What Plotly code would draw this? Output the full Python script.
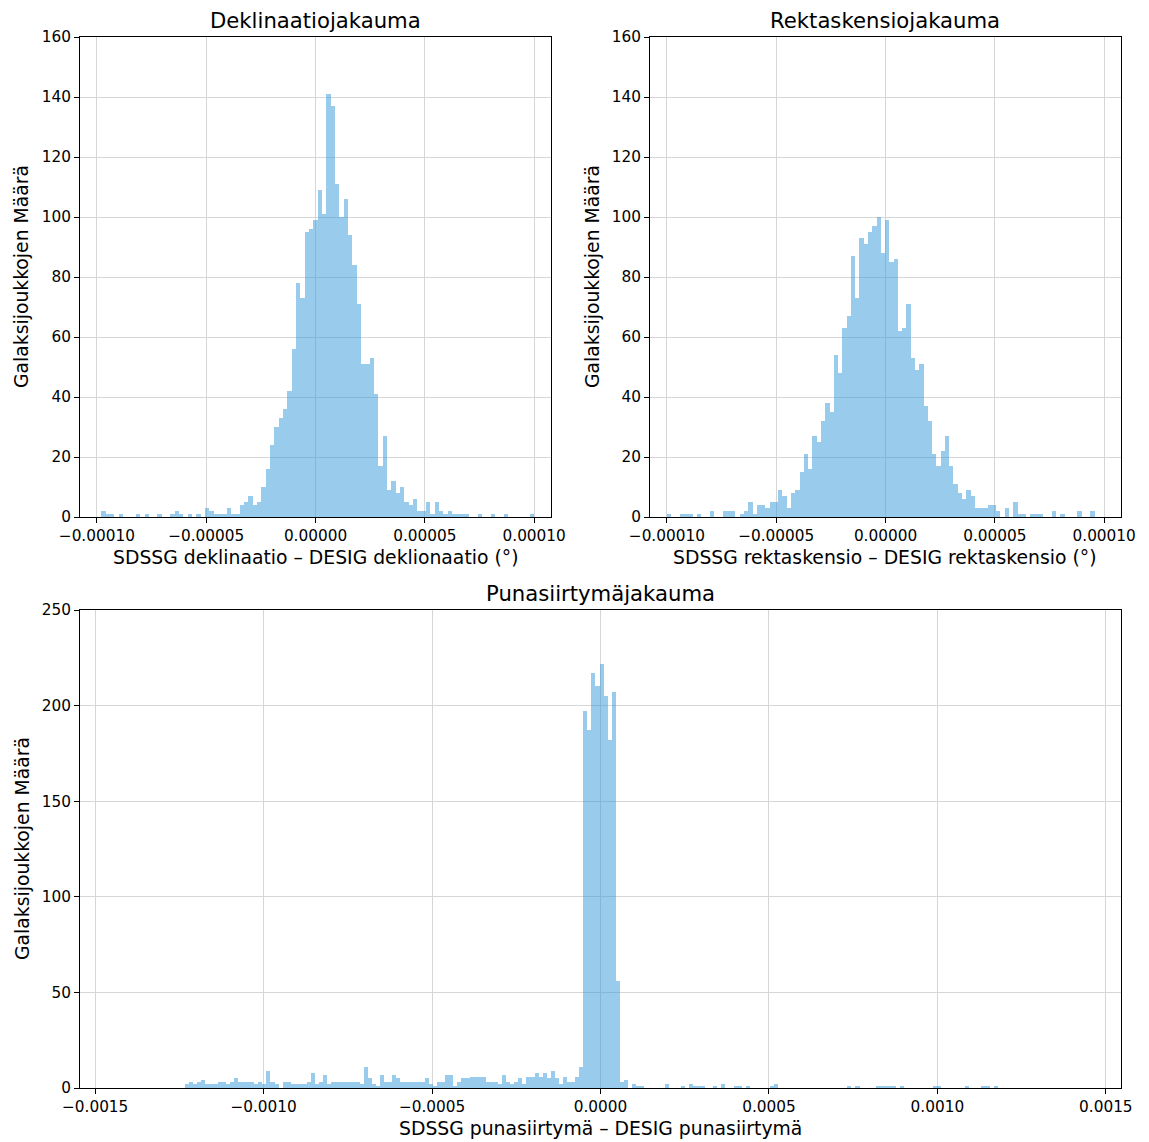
import plotly.graph_objects as go

# ---------------- data ----------------
dec_bin_start = -98.0e-6
dec_bin_width = 1.98e-6
dec_counts = [2, 1, 1, 0, 1, 0, 0, 0, 1, 0,
              1, 0, 0, 1, 0, 0, 1, 2, 1, 0,
              1, 0, 1, 0, 3, 2, 1, 1, 1, 3,
              1, 1, 4, 5, 7, 4, 5, 10, 16, 24,
              30, 33, 36, 42, 56, 78, 73, 95, 96, 99,
              109, 101, 141, 137, 111, 100, 106, 94, 84, 71,
              51, 51, 53, 41, 17, 27, 9, 12, 8, 10,
              5, 4, 6, 2, 2, 5, 1, 5, 2, 1,
              2, 1, 1, 1, 1, 0, 0, 1, 0, 0,
              1, 0, 0, 1, 0, 0, 0, 0, 0, 1]

ra_bin_start = -99.9e-6
ra_bin_width = 1.955e-6
ra_counts = [1, 0, 0, 1, 1, 1, 0, 1, 0, 0,
             2, 0, 0, 2, 2, 2, 0, 1, 2, 5,
             1, 4, 4, 3, 5, 5, 9, 7, 3, 8,
             9, 15, 21, 16, 27, 25, 32, 38, 35, 54,
             48, 63, 67, 87, 73, 93, 91, 95, 97, 100,
             88, 99, 85, 86, 62, 63, 71, 53, 49, 51,
             37, 32, 21, 17, 22, 27, 17, 11, 8, 6,
             9, 7, 3, 3, 3, 4, 4, 2, 0, 3,
             0, 5, 1, 1, 0, 1, 1, 1, 0, 0,
             2, 0, 1, 0, 0, 0, 2, 0, 0, 2]

z_bin_start = -1.2330e-3
z_bin_width = 12.06e-6
z_counts = [2, 3, 2, 3, 4, 2, 2, 2, 3, 3,
            2, 3, 5, 3, 3, 3, 3, 2, 3, 2,
            9, 3, 2, 0, 3, 3, 2, 2, 2, 2,
            3, 8, 2, 3, 7, 2, 3, 3, 3, 3,
            3, 3, 3, 2, 11, 5, 2, 1, 7, 3,
            3, 7, 5, 3, 3, 3, 3, 3, 3, 5,
            2, 1, 3, 3, 7, 7, 1, 3, 5, 5,
            6, 6, 6, 6, 3, 3, 3, 2, 7, 3,
            2, 3, 5, 2, 6, 6, 8, 6, 8, 5,
            9, 5, 2, 6, 3, 3, 6, 11, 197, 187,
            217, 210, 222, 205, 182, 207, 56, 3, 4, 0,
            2, 1, 1, 0, 0, 0, 0, 0, 2, 0,
            0, 0, 1, 0, 2, 1, 1, 1, 0, 0,
            1, 0, 2, 0, 0, 1, 1, 0, 1, 0,
            0, 0, 0, 0, 1, 2, 0, 0, 0, 0,
            0, 0, 0, 0, 0, 0, 0, 0, 0, 0,
            0, 0, 0, 1, 0, 1, 0, 0, 0, 0,
            1, 1, 1, 1, 1, 0, 1, 0, 0, 0,
            0, 0, 0, 0, 1, 1, 0, 0, 0, 0,
            0, 0, 1, 0, 0, 0, 1, 1, 0, 1]

top_tickvals = [-0.0001, -0.00005, 0.0, 0.00005, 0.0001]
top_ticktext = ["\u22120.00010", "\u22120.00005", "0.00000", "0.00005", "0.00010"]
bot_tickvals = [-0.0015, -0.001, -0.0005, 0.0, 0.0005, 0.001, 0.0015]
bot_ticktext = ["\u22120.0015", "\u22120.0010", "\u22120.0005", "0.0000", "0.0005", "0.0010", "0.0015"]

titles = ["Deklinaatiojakauma", "Rektaskensiojakauma", "Punasiirtymäjakauma"]
xlabels = ["SDSSG deklinaatio – DESIG deklionaatio (°)",
           "SDSSG rektaskensio – DESIG rektaskensio (°)",
           "SDSSG punasiirtymä – DESIG punasiirtymä"]
ylabel = "Galaksijoukkojen Määrä"

# ---------------- figure ----------------
W, H = 1149, 1142
BAR = "rgba(52,152,219,0.5)"
GRID = "#d6d6d6"
FONT = "DejaVu Sans"
TICK_SIZE = 15.3
LABEL_SIZE = 18.8
TITLE_SIZE = 21.2


def centers(start, width, n):
    return [start + (i + 0.5) * width for i in range(n)]


fig = go.Figure()
fig.add_trace(go.Bar(x=centers(dec_bin_start, dec_bin_width, len(dec_counts)), y=dec_counts,
                     width=dec_bin_width, marker=dict(color=BAR, line=dict(width=0)),
                     xaxis="x", yaxis="y", showlegend=False))
fig.add_trace(go.Bar(x=centers(ra_bin_start, ra_bin_width, len(ra_counts)), y=ra_counts,
                     width=ra_bin_width, marker=dict(color=BAR, line=dict(width=0)),
                     xaxis="x2", yaxis="y2", showlegend=False))
fig.add_trace(go.Bar(x=centers(z_bin_start, z_bin_width, len(z_counts)), y=z_counts,
                     width=z_bin_width, marker=dict(color=BAR, line=dict(width=0)),
                     xaxis="x3", yaxis="y3", showlegend=False))


def px_x(a, b):
    return [a / W, b / W]


def px_y(top, bottom):
    return [(H - bottom) / H, (H - top) / H]


common = dict(showline=True, mirror=True, linecolor="black", linewidth=1.1,
              ticks="outside", ticklen=5, tickwidth=1.1, tickcolor="black",
              showgrid=True, gridcolor=GRID, gridwidth=1, zeroline=False,
              automargin=False,
              tickfont=dict(family=FONT, size=TICK_SIZE, color="black"))

fig.update_layout(
    width=W, height=H,
    margin=dict(l=0, r=0, t=0, b=0, autoexpand=False),
    paper_bgcolor="white", plot_bgcolor="white",
    bargap=0, barmode="overlay",
    font=dict(family=FONT, size=TICK_SIZE, color="black"),
    xaxis=dict(domain=px_x(80, 551), range=[-1.077e-4, 1.077e-4], anchor="y",
               tickvals=top_tickvals, ticktext=top_ticktext, **common),
    yaxis=dict(domain=px_y(37, 517), range=[0, 160], anchor="x", tick0=0, dtick=20, **common),
    xaxis2=dict(domain=px_x(650, 1121), range=[-1.077e-4, 1.077e-4], anchor="y2",
                tickvals=top_tickvals, ticktext=top_ticktext, **common),
    yaxis2=dict(domain=px_y(37, 517), range=[0, 160], anchor="x2", tick0=0, dtick=20, **common),
    xaxis3=dict(domain=px_x(80, 1121), range=[-1.545e-3, 1.545e-3], anchor="y3",
                tickvals=bot_tickvals, ticktext=bot_ticktext, **common),
    yaxis3=dict(domain=px_y(610, 1088), range=[0, 250], anchor="x3", tick0=0, dtick=50, **common),
)

ann = []
# titles
for (cx, cy), t in zip([(315.5, 21), (885.5, 21), (600.5, 593)], titles):
    ann.append(dict(text=t, x=cx / W, y=(H - cy) / H, xref="paper", yref="paper",
                    xanchor="center", yanchor="middle", showarrow=False,
                    font=dict(family=FONT, size=TITLE_SIZE, color="black")))
# x labels
for (cx, cy), t in zip([(315.5, 557), (885.5, 557), (600.5, 1128)], xlabels):
    ann.append(dict(text=t, x=cx / W, y=(H - cy) / H, xref="paper", yref="paper",
                    xanchor="center", yanchor="middle", showarrow=False,
                    font=dict(family=FONT, size=LABEL_SIZE, color="black")))
# y labels
for (cx, cy) in [(22, 277), (593, 277), (22, 849)]:
    ann.append(dict(text=ylabel, x=cx / W, y=(H - cy) / H, xref="paper", yref="paper",
                    xanchor="center", yanchor="middle", showarrow=False, textangle=-90,
                    font=dict(family=FONT, size=LABEL_SIZE, color="black")))
fig.update_layout(annotations=ann)

fig.write_html("out.html", config={"displayModeBar": False},
               post_script="document.body.style.margin='0px';document.body.style.padding='0px';")
